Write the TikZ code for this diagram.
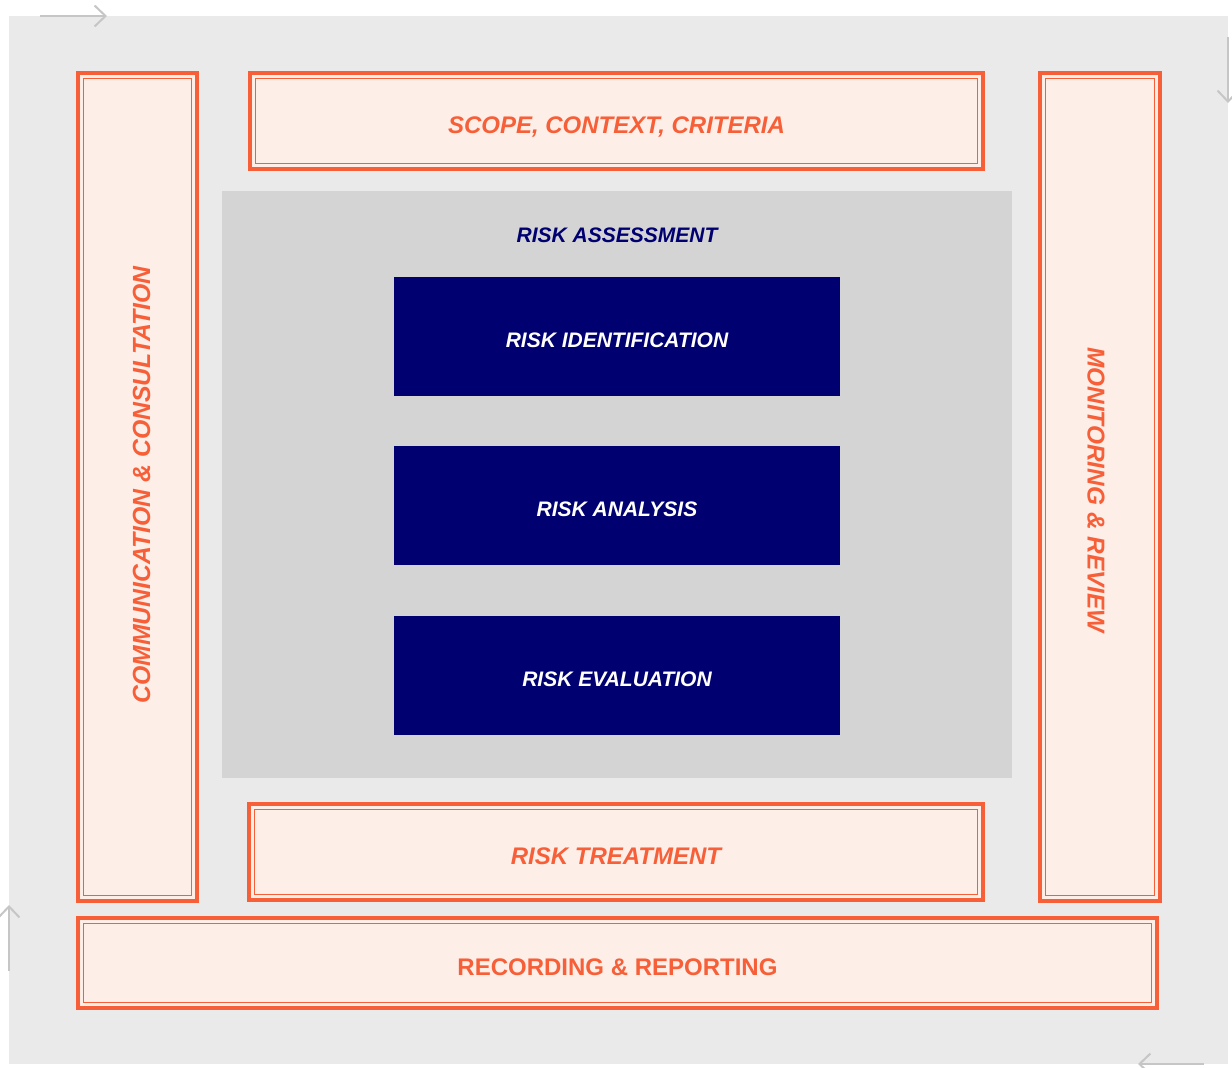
\documentclass[tikz,border=0pt]{standalone}
\usepackage{fontspec}
\setmainfont{Liberation Sans}
\usetikzlibrary{arrows.meta}
\definecolor{orng}{HTML}{F65F37}
\definecolor{ofill}{HTML}{FEEEE8}
\definecolor{bgout}{HTML}{EAEAEA}
\definecolor{bgin}{HTML}{D4D4D4}
\definecolor{navy}{HTML}{000070}
\definecolor{arr}{HTML}{C6C6C6}
\tikzset{
  obox/.style={rectangle, fill=ofill, draw=orng, line width=4pt, outer sep=0pt, inner sep=0pt},
  innerline/.style={draw=orng, line width=1.3pt},
  otext/.style={text=orng, font=\fontsize{24}{28}\selectfont\bfseries\itshape, text height=25pt, text depth=0pt, inner sep=0pt},
  otextup/.style={text=orng, font=\fontsize{24}{28}\selectfont\bfseries, text height=25pt, text depth=0pt, inner sep=0pt},
  nbox/.style={rectangle, fill=navy, text=white, minimum width=446pt, minimum height=119pt, inner sep=0pt, outer sep=0pt,
    font=\fontsize{21}{25}\selectfont\bfseries\itshape, text height=21pt, text depth=0pt},
  flowarrow/.style={draw=arr, line width=2pt, -{Straight Barb[length=11pt,width=21pt,line width=2pt]}}
}
\begin{document}
\begin{tikzpicture}[x=1pt,y=-1pt]
\useasboundingbox (0,0) rectangle (1232,1068);
\fill[white] (0,0) rectangle (1232,1068);
% outer gray field
\node[rectangle, fill=bgout, minimum width=1219pt, minimum height=1048pt, inner sep=0pt, outer sep=0pt] (field) at (618.5,540) {};
% corner arrows
\coordinate (a1s) at (40,16); \coordinate (a1e) at (107,16);
\coordinate (a2s) at (1228,37); \coordinate (a2e) at (1228,103);
\coordinate (a3s) at (1204,1064); \coordinate (a3e) at (1138,1064);
\coordinate (a4s) at (9,971); \coordinate (a4e) at (9,905);
\draw[flowarrow] (a1s) -- (a1e);
\draw[flowarrow] (a2s) -- (a2e);
\draw[flowarrow] (a3s) -- (a3e);
\draw[flowarrow] (a4s) -- (a4e);
% risk assessment area
\node[rectangle, fill=bgin, minimum width=790pt, minimum height=587pt, inner sep=0pt, outer sep=0pt] (assess) at (617,484.5) {};
\node[text=navy, font=\fontsize{21}{25}\selectfont\bfseries\itshape, text height=21pt, text depth=0pt, inner sep=0pt] (assesst) at (617,232) {RISK ASSESSMENT};
\node[nbox] (ident) at (617,336.5) {RISK IDENTIFICATION};
\node[nbox] (anal) at (617,505.5) {RISK ANALYSIS};
\node[nbox] (eval) at (617,675.5) {RISK EVALUATION};
% orange boxes
\node[obox, minimum width=733pt, minimum height=96pt] (scope) at (616.5,121) {};
\node[obox, minimum width=119pt, minimum height=828pt] (comm) at (137.5,487) {};
\node[obox, minimum width=120pt, minimum height=828pt] (mon) at (1100,487) {};
\node[obox, minimum width=734pt, minimum height=96pt] (treat) at (616,852) {};
\node[obox, minimum width=1079pt, minimum height=90pt] (rec) at (617.5,963) {};
\foreach \n in {scope,comm,mon,treat,rec}
  \draw[innerline] ([shift={(5.7,5.7)}]\n.north west) rectangle ([shift={(-5.7,-5.7)}]\n.south east);
\node[otext] (scopet) at (scope.center) {SCOPE, CONTEXT, CRITERIA};
\node[otext] (treatt) at (treat.center) {RISK TREATMENT};
\node[otextup] (rect) at (rec.center) {RECORDING \& REPORTING};
\node[otext, rotate=90, font=\fontsize{24.8}{28}\selectfont\bfseries\itshape] (commt) at ([yshift=2]comm.center) {COMMUNICATION \& CONSULTATION};
\node[otext, rotate=-90, font=\fontsize{24.4}{28}\selectfont\bfseries\itshape] (mont) at ([yshift=-3]mon.center) {MONITORING \& REVIEW};
\end{tikzpicture}
\end{document}
